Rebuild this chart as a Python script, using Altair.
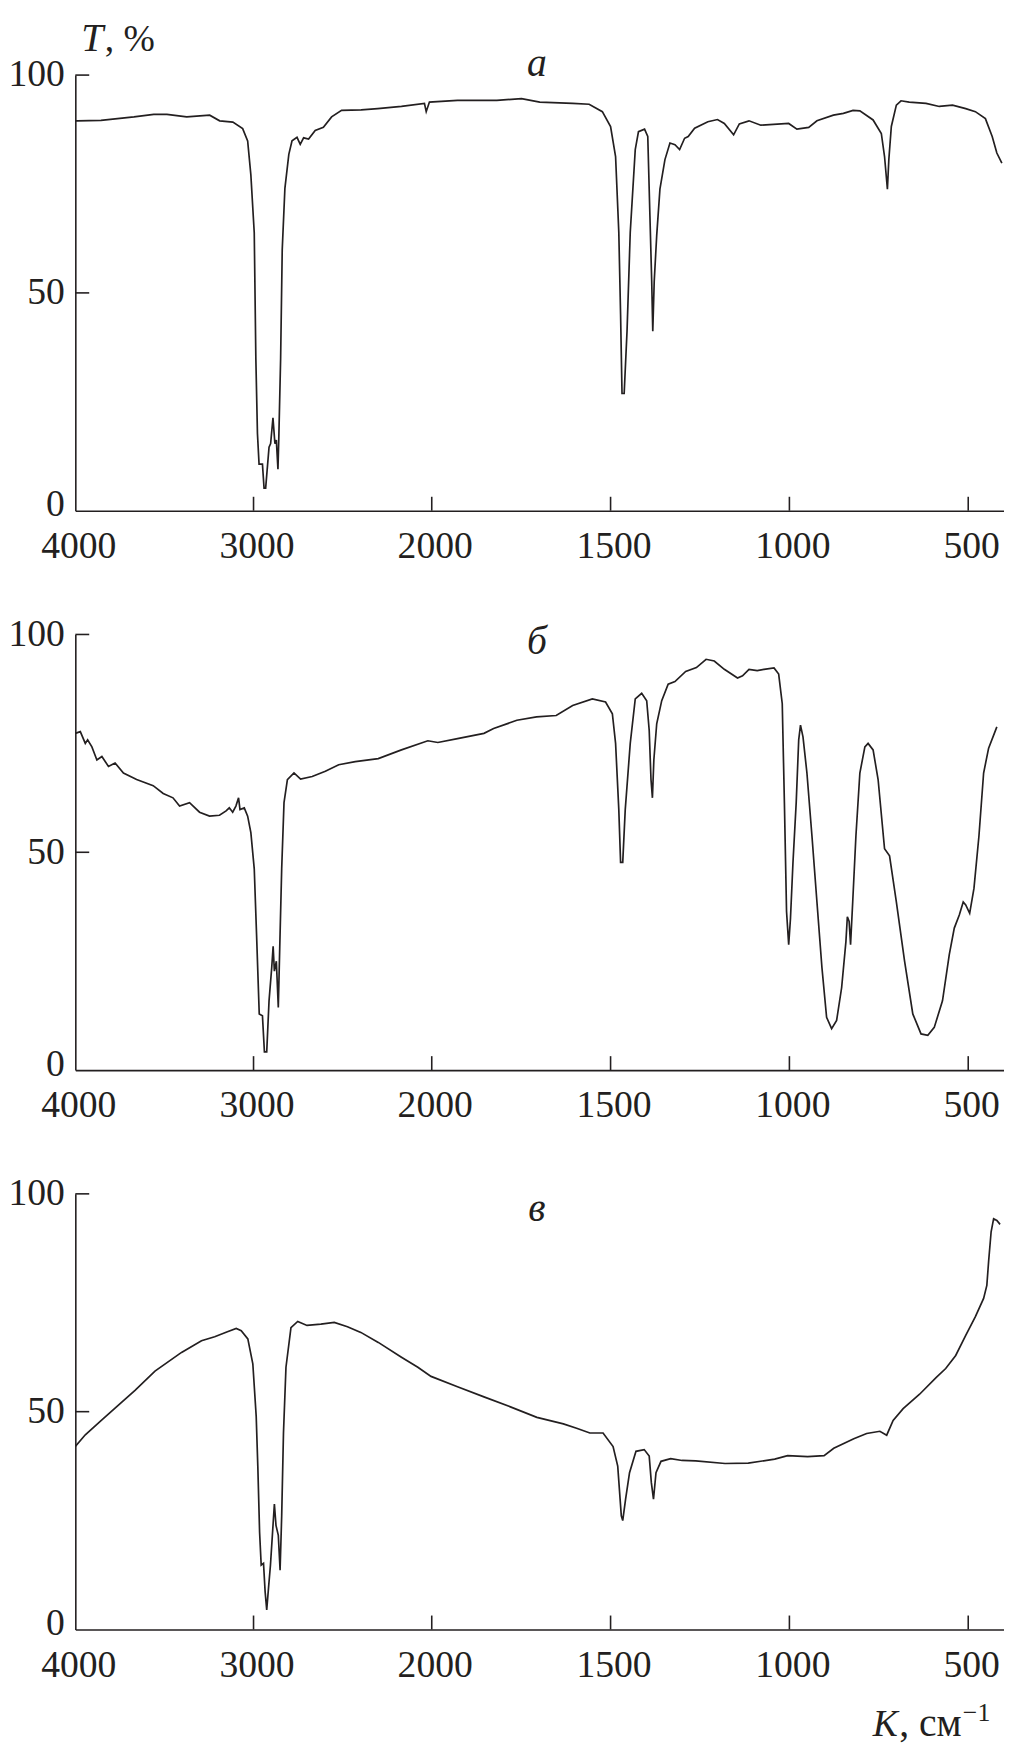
import altair as alt
import pandas as pd

# ---------------- data ----------------
nu_a = [4000, 3989, 3856, 3671, 3560, 3486, 3375, 3246, 3190, 3116, 3061, 3033, 3015, 2996,
        2987, 2978, 2969, 2950, 2941, 2932, 2913, 2904, 2891, 2880, 2872, 2863, 2858, 2848,
        2839, 2824, 2802, 2784, 2756, 2738, 2719, 2691, 2654, 2608, 2562, 2506, 2396, 2303,
        2170, 2041, 2031, 2013, 1928, 1818, 1749, 1698, 1606, 1560, 1523, 1500, 1486, 1477,
        1472, 1468, 1462, 1454, 1445, 1431, 1422, 1405, 1396, 1390, 1385, 1382, 1378, 1371,
        1362, 1348, 1334, 1320, 1307, 1293, 1283, 1265, 1228, 1201, 1182, 1156, 1140, 1113,
        1080, 1002, 979, 946, 923, 877, 849, 822, 803, 766, 743, 734, 726, 722, 715, 701, 688,
        665, 618, 581, 544, 507, 480, 452, 433, 420, 406]
t_a = [89.5, 89.5, 89.6, 90.4, 91.0, 91.0, 90.4, 90.8, 89.5, 89.2, 87.7, 84.9, 77.1, 63.8,
       34.9, 17.7, 10.7, 10.7, 5.2, 5.2, 14.6, 15.4, 21.3, 15.4, 16.2, 9.5, 17.0, 34.9,
       59.9, 74.0, 81.8, 84.9, 85.7, 84.1, 85.6, 85.3, 87.3, 88.0, 90.4, 91.9, 92.0, 92.3,
       92.8, 93.5, 91.6, 93.8, 94.2, 94.2, 94.6, 93.8, 93.5, 93.3, 91.6, 88.2, 81.3, 63.9,
       45.0, 26.9, 26.9, 41.2, 63.9, 82.9, 87.0, 87.6, 85.9, 67.7, 52.6, 41.2, 52.6, 63.2,
       73.8, 80.6, 84.4, 84.0, 82.9, 85.5, 85.9, 87.8, 89.3, 89.8, 88.9, 86.3, 88.8, 89.5,
       88.5, 88.9, 87.6, 88.0, 89.5, 90.8, 91.2, 91.9, 91.8, 89.7, 86.6, 81.3, 73.8, 80.6,
       88.2, 93.1, 94.1, 93.8, 93.5, 92.8, 93.1, 92.3, 91.6, 90.0, 85.9, 82.1, 79.8]

nu_b = [4000, 3972, 3944, 3931, 3907, 3879, 3851, 3814, 3777, 3730, 3656, 3563, 3507, 3452,
        3415, 3359, 3303, 3247, 3191, 3154, 3136, 3117, 3099, 3084, 3076, 3052, 3033, 3015,
        2996, 2983, 2968, 2950, 2939, 2926, 2913, 2898, 2890, 2883, 2872, 2861, 2853, 2842,
        2829, 2810, 2773, 2736, 2671, 2597, 2522, 2429, 2300, 2170, 2022, 1983, 1928, 1854,
        1827, 1762, 1707, 1652, 1606, 1551, 1514, 1495, 1486, 1477, 1472, 1466, 1459, 1445,
        1431, 1413, 1399, 1392, 1387, 1383, 1379, 1371, 1357, 1339, 1320, 1290, 1260, 1233,
        1210, 1182, 1145, 1131, 1113, 1090, 1071, 1043, 1030, 1020, 1014, 1008, 1002, 997,
        990, 981, 974, 969, 962, 951, 937, 923, 909, 896, 882, 868, 854, 842, 838, 833, 829,
        823, 814, 803, 789, 780, 766, 752, 734, 720, 701, 678, 655, 632, 613, 595, 572, 553,
        539, 525, 514, 507, 496, 484, 470, 457, 443, 420]
t_b = [77.3, 77.7, 75.0, 75.8, 74.2, 71.2, 72.0, 69.7, 70.5, 68.2, 66.7, 65.3, 63.5, 62.5,
       60.6, 61.4, 59.2, 58.3, 58.5, 59.5, 60.2, 59.2, 60.6, 62.5, 59.8, 60.2, 58.3, 54.5,
       46.2, 31.1, 12.9, 12.5, 4.2, 4.2, 15.9, 23.5, 28.4, 22.7, 25.0, 14.4, 28.0, 46.2,
       61.4, 66.7, 68.2, 66.8, 67.4, 68.6, 70.1, 70.8, 71.5, 73.5, 75.6, 75.2, 76.1, 77.3,
       78.4, 80.3, 81.1, 81.4, 83.7, 85.2, 84.5, 81.8, 75.0, 59.8, 47.7, 47.7, 59.8, 75.0,
       85.2, 86.5, 84.8, 78.0, 66.7, 62.5, 71.2, 79.5, 84.8, 88.6, 89.2, 91.5, 92.4, 94.3,
       93.9, 92.0, 90.0, 90.5, 92.0, 91.7, 92.0, 92.3, 90.9, 84.1, 61.4, 36.4, 28.8, 34.8,
       47.7, 61.4, 75.8, 79.2, 76.5, 68.2, 53.8, 38.6, 23.5, 12.1, 9.5, 11.4, 18.9, 29.5,
       35.2, 34.1, 28.8, 38.6, 53.8, 68.2, 74.2, 75.0, 73.5, 66.7, 50.8, 49.2, 38.6, 25.0,
       12.9, 8.3, 8.0, 9.8, 15.9, 26.5, 32.6, 35.6, 38.6, 37.9, 36.0, 41.7, 53.8, 68.2, 73.9,
       78.8]

nu_c = [4000, 3944, 3851, 3777, 3665, 3553, 3404, 3292, 3218, 3143, 3097, 3069, 3032, 3004,
        2985, 2976, 2966, 2957, 2944, 2935, 2926, 2916, 2905, 2892, 2883, 2874, 2861, 2851,
        2842, 2832, 2818, 2790, 2752, 2700, 2622, 2547, 2473, 2398, 2300, 2170, 2078, 2004,
        1928, 1854, 1780, 1706, 1632, 1595, 1558, 1521, 1493, 1480, 1470, 1466, 1458, 1447,
        1429, 1406, 1392, 1386, 1380, 1373, 1359, 1332, 1300, 1262, 1180, 1115, 1041, 1005,
        949, 903, 876, 820, 784, 747, 728, 710, 682, 636, 590, 563, 535, 507, 480, 457, 448,
        443, 436, 429, 420, 411]
t_c = [42.0, 44.7, 48.1, 50.8, 54.9, 59.3, 63.6, 66.3, 67.2, 68.4, 69.1, 68.6, 66.7, 61.0,
       48.9, 37.5, 22.3, 14.8, 15.2, 8.7, 4.5, 9.5, 14.8, 23.1, 28.8, 23.9, 21.6, 13.6,
       26.1, 45.1, 60.2, 69.3, 70.7, 69.8, 70.1, 70.5, 69.5, 68.2, 65.9, 62.5, 60.2, 58.1,
       55.7, 53.4, 51.1, 48.7, 47.2, 46.2, 45.1, 45.1, 42.0, 37.5, 26.1, 25.0, 29.9, 36.0,
       40.9, 41.3, 39.8, 33.7, 29.9, 36.0, 38.6, 39.2, 38.8, 38.7, 38.1, 38.2, 39.1, 39.9,
       39.7, 39.9, 41.6, 43.8, 45.0, 45.5, 44.6, 48.0, 50.7, 54.0, 57.8, 59.9, 62.9, 67.5,
       71.8, 76.0, 79.0, 84.5, 91.3, 94.3, 93.9, 93.0]

x_labels = [4000, 3000, 2000, 1500, 1000, 500]
x_ticks = [3000, 2000, 1500, 1000, 500]
y_labels = [0, 50, 100]
y_ticks = [50, 100]

panel_letters = ["а", "б", "в"]
letter_nu = 1706
letter_t = [99.9, 95.6, 93.7]

# ---------------- style ----------------
FONT = "Liberation Serif"
INK = "#231f20"
W, H = 938, 440
TICK_T = 3.2      # inward tick length in T units (~14 px)
TICK_NU = 78      # inward tick length in wavenumber units (~14 px)

xscale = alt.Scale(domain=[4000, 2000, 400], range=[0, 360, W], nice=False, zero=False)
yscale = alt.Scale(domain=[0, 100], nice=False, zero=False)

xaxis = alt.Axis(values=x_labels, format="d", title=None, ticks=False, tickSize=0, grid=False,
                 labelFont=FONT, labelFontSize=38, labelColor=INK, labelPadding=17,
                 labelFlush=False, labelOverlap=False, labelOffset=3, labelAngle=0,
                 domainColor=INK, domainWidth=1.6)
yaxis = alt.Axis(values=y_labels, format="d", title=None, ticks=False, tickSize=0, grid=False,
                 labelFont=FONT, labelFontSize=38, labelColor=INK, labelPadding=11,
                 labelFlush=False, labelOverlap=False,
                 labelOffset={"condition": {"test": "datum.value === 0", "value": -6}, "value": 0},
                 domainColor=INK, domainWidth=1.6)


def X(field="nu"):
    return alt.X(f"{field}:Q", scale=xscale, axis=xaxis, title=None)


def Y(field="T"):
    return alt.Y(f"{field}:Q", scale=yscale, axis=yaxis, title=None)


xt_df = pd.DataFrame({"nu": x_ticks, "T": [0] * len(x_ticks), "T2": [TICK_T] * len(x_ticks)})
yt_df = pd.DataFrame({"nu": [4000] * len(y_ticks), "nu2": [4000 - TICK_NU] * len(y_ticks), "T": y_ticks})


def text_layer(nu, t, s, size=38, style="normal", align="left"):
    df = pd.DataFrame({"nu": [nu], "T": [t], "s": [s]})
    return alt.Chart(df).mark_text(font=FONT, fontSize=size, fontStyle=style, color=INK,
                                   align=align, baseline="alphabetic").encode(
        x=X(), y=Y(), text="s:N")


def panel(nu, t, k, extra=()):
    df = pd.DataFrame({"nu": nu, "T": t, "i": list(range(len(nu)))})
    line = alt.Chart(df).mark_line(color=INK, strokeWidth=1.7, clip=True).encode(
        x=X(), y=Y(), order="i:Q")
    xt = alt.Chart(xt_df).mark_rule(color=INK, strokeWidth=1.6).encode(x=X(), y=Y(), y2="T2:Q")
    yt = alt.Chart(yt_df).mark_rule(color=INK, strokeWidth=1.6).encode(x=X(), x2="nu2:Q", y=Y())
    lab = text_layer(letter_nu, letter_t[k], panel_letters[k], size=40, style="italic", align="center")
    return alt.layer(line, xt, yt, lab, *extra).properties(width=W, height=H)


y_title = [text_layer(3967, 105.6, "T", style="italic", size=40),
           text_layer(3835, 105.6, ", %")]
x_title = [text_layer(767, -24.4, "K", style="italic"),
           text_layer(693, -24.4, ", см", size=40),
           text_layer(515, -21.0, "−1", size=26)]

pa = panel(nu_a, t_a, 0, y_title)
pb = panel(nu_b, t_b, 1)
pc = panel(nu_c, t_c, 2, x_title)

chart = alt.vconcat(pa, pb, pc, spacing=125).properties(
    bounds="flush",
    padding={"left": 0, "top": 2, "right": 0, "bottom": 0},
).configure_view(stroke=None)

chart.save("out.html", embed_options={"renderer": "svg", "actions": False})
